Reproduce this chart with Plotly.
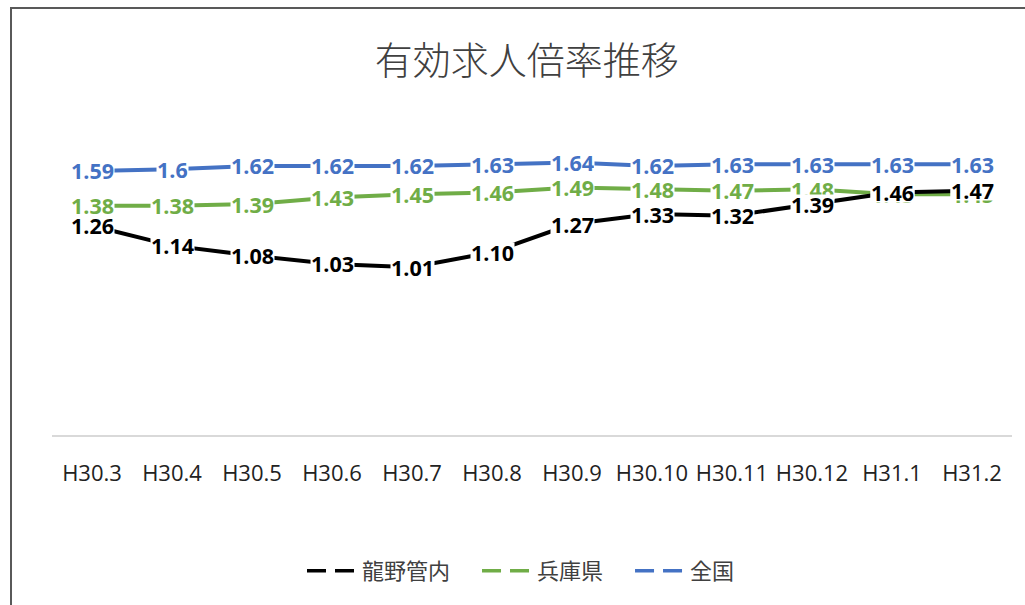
import plotly.graph_objects as go

categories = ["H30.3", "H30.4", "H30.5", "H30.6", "H30.7", "H30.8", "H30.9",
              "H30.10", "H30.11", "H30.12", "H31.1", "H31.2"]
tatsuno = [1.26, 1.14, 1.08, 1.03, 1.01, 1.10, 1.27, 1.33, 1.32, 1.39, 1.46, 1.47]
hyogo = [1.38, 1.38, 1.39, 1.43, 1.45, 1.46, 1.49, 1.48, 1.47, 1.48, 1.45, 1.45]
zenkoku = [1.59, 1.6, 1.62, 1.62, 1.62, 1.63, 1.64, 1.62, 1.63, 1.63, 1.63, 1.63]
tatsuno_labels = ["1.26", "1.14", "1.08", "1.03", "1.01", "1.10", "1.27", "1.33", "1.32", "1.39", "1.46", "1.47"]
hyogo_labels = ["1.38", "1.38", "1.39", "1.43", "1.45", "1.46", "1.49", "1.48", "1.47", "1.48", "1.45", "1.45"]
zenkoku_labels = ["1.59", "1.6", "1.62", "1.62", "1.62", "1.63", "1.64", "1.62", "1.63", "1.63", "1.63", "1.63"]

series = [
    ("全国", zenkoku, zenkoku_labels, "#4472C4"),
    ("兵庫県", hyogo, hyogo_labels, "#70AD47"),
    ("龍野管内", tatsuno, tatsuno_labels, "#000000"),
]

fig = go.Figure()
for name, vals, labs, color in series:
    fig.add_trace(go.Scatter(x=categories, y=vals, mode="lines", name=name,
                             line=dict(color=color, width=4), showlegend=False,
                             hoverinfo="skip"))

# legend-only entries (order: 龍野管内, 兵庫県, 全国)
for name, vals, labs, color in reversed(series):
    fig.add_trace(go.Scatter(x=[None], y=[None], mode="lines", name=name + "\u2003",
                             line=dict(color=color, width=3.5, dash="19px,9px"),
                             showlegend=True))

annotations = []
for name, vals, labs, color in series:
    for c, v, t in zip(categories, vals, labs):
        annotations.append(dict(x=c, y=v, xref="x", yref="y", text=t, showarrow=False,
                                font=dict(family="Open Sans", size=21.5, color=color, weight="bold"),
                                bgcolor="white", borderpad=0, height=19,
                                xanchor="center", yanchor="middle"))

fig.update_layout(
    width=1025, height=605,
    margin=dict(l=52, r=13, t=136, b=170),
    paper_bgcolor="white", plot_bgcolor="white",
    title=dict(text="有効求人倍率推移", x=0.514, xanchor="center", y=0.9, yanchor="middle",
               yref="container",
               font=dict(family="Noto Sans CJK JP", size=38, color="#404040", weight=300)),
    xaxis=dict(type="category", showgrid=False, zeroline=False, showline=True,
               linecolor="#D9D9D9", linewidth=2, ticks="", ticklabelstandoff=18,
               tickfont=dict(family="Open Sans", size=22, color="#222222"),
               range=[-0.5, 11.5]),
    yaxis=dict(range=[0, 1.8], visible=False, showgrid=False, zeroline=False),
    legend=dict(orientation="h", x=0.5, xanchor="center", y=-0.455, yanchor="middle",
                font=dict(family="Noto Sans CJK JP", size=22, color="#404040"),
                itemwidth=50, tracegroupgap=0),
    annotations=annotations,
    shapes=[dict(type="rect", xref="paper", yref="paper", x0=-0.0427, x1=1.1,
                 y0=-1.0, y1=1.428, line=dict(color="#595959", width=2), layer="above")],
)

fig.write_html("out.html")
